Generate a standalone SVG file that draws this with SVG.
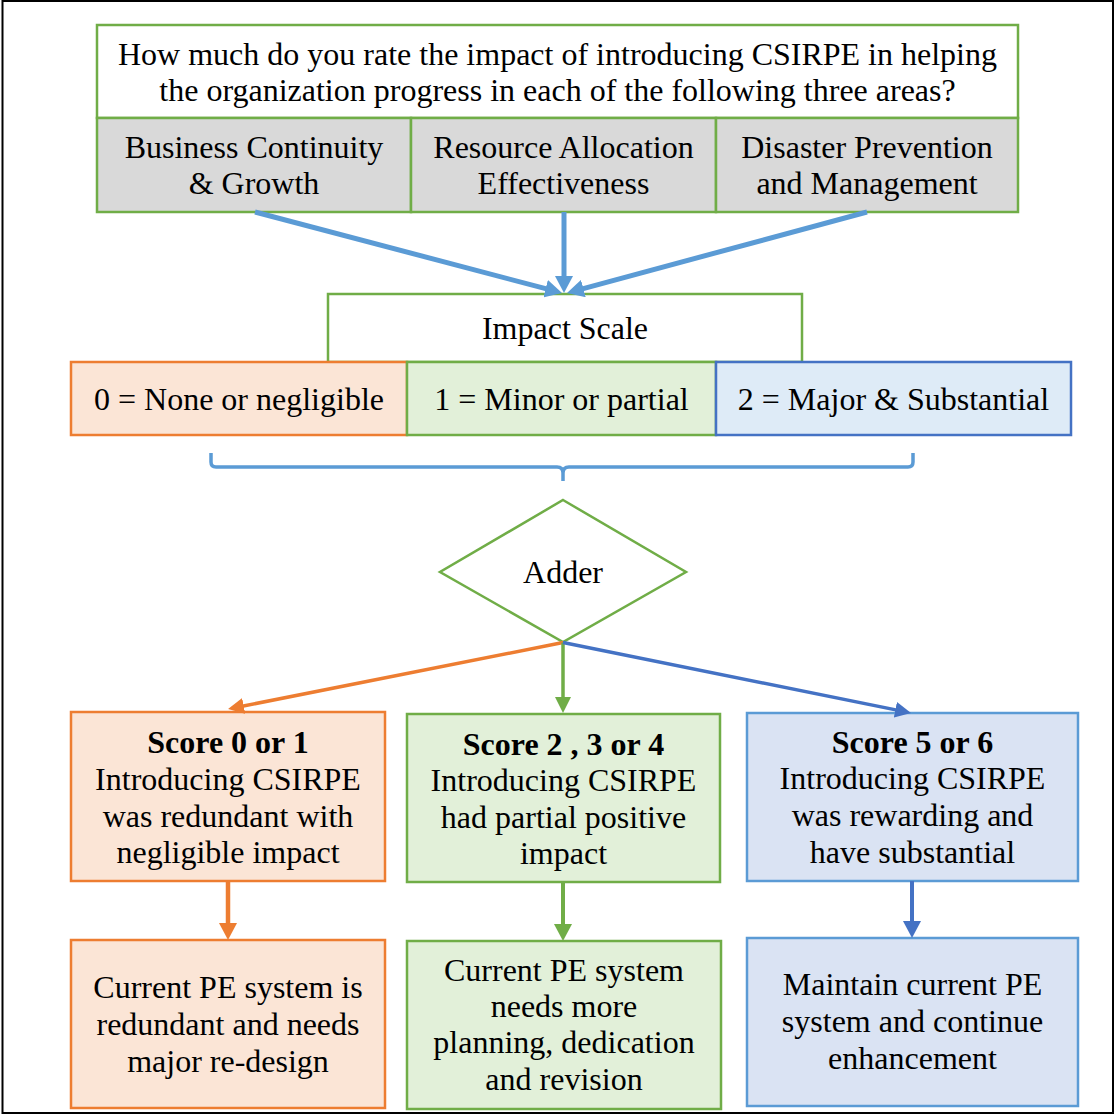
<svg xmlns="http://www.w3.org/2000/svg" width="1116" height="1116" viewBox="0 0 1116 1116">
  <defs>
    <style>
      text { font-family: "Liberation Serif", "Times New Roman", serif; font-size: 32px; fill: #000; text-anchor: middle; }
      .b { font-weight: bold; }
      .gbox { fill: #ffffff; stroke: #70AD47; stroke-width: 2.5; }
      .grey { fill: #D9D9D9; stroke: #70AD47; stroke-width: 2.5; }
      .obox { fill: #FBE5D6; stroke: #ED7D31; stroke-width: 2.5; }
      .lgbox { fill: #E2F0D9; stroke: #70AD47; stroke-width: 2.5; }
      .lbbox { fill: #DAE3F3; stroke: #5B9BD5; stroke-width: 2.5; }
      .sbbox { fill: #DEEBF7; stroke: #4472C4; stroke-width: 2.5; }
      .c-top { stroke: #5B9BD5; stroke-width: 5; fill: none; }
      .c-o { stroke: #ED7D31; fill: none; }
      .c-g { stroke: #70AD47; fill: none; }
      .c-b { stroke: #4472C4; fill: none; }
    </style>
    <marker id="ah-top" markerUnits="userSpaceOnUse" markerWidth="18" markerHeight="18" refX="3" refY="9" orient="auto">
      <path d="M0,0 L17,9 L0,18 z" fill="#5B9BD5"/>
    </marker>
    <marker id="ah-o" markerUnits="userSpaceOnUse" markerWidth="16" markerHeight="16" refX="3" refY="8" orient="auto">
      <path d="M0,0 L16,8 L0,16 z" fill="#ED7D31"/>
    </marker>
    <marker id="ah-g" markerUnits="userSpaceOnUse" markerWidth="16" markerHeight="16" refX="3" refY="8" orient="auto">
      <path d="M0,0 L16,8 L0,16 z" fill="#70AD47"/>
    </marker>
    <marker id="ah-b" markerUnits="userSpaceOnUse" markerWidth="16" markerHeight="16" refX="3" refY="8" orient="auto">
      <path d="M0,0 L16,8 L0,16 z" fill="#4472C4"/>
    </marker>
    <marker id="ah-o2" markerUnits="userSpaceOnUse" markerWidth="18" markerHeight="18" refX="3" refY="9" orient="auto">
      <path d="M0,0 L17,9 L0,18 z" fill="#ED7D31"/>
    </marker>
    <marker id="ah-g2" markerUnits="userSpaceOnUse" markerWidth="18" markerHeight="18" refX="3" refY="9" orient="auto">
      <path d="M0,0 L17,9 L0,18 z" fill="#70AD47"/>
    </marker>
    <marker id="ah-b2" markerUnits="userSpaceOnUse" markerWidth="18" markerHeight="18" refX="3" refY="9" orient="auto">
      <path d="M0,0 L17,9 L0,18 z" fill="#4472C4"/>
    </marker>
  </defs>

  <!-- page frame -->
  <rect x="0" y="0" width="1116" height="1116" fill="#ffffff"/>
  <rect x="2.5" y="1" width="1110.5" height="1112" fill="none" stroke="#000" stroke-width="2"/>

  <!-- question header -->
  <g id="question">
    <rect class="gbox" x="97" y="25" width="921" height="93"/>
    <text x="557.5" y="65">How much do you rate the impact of introducing CSIRPE in helping</text>
    <text x="557.5" y="101">the organization progress in each of the following three areas?</text>
  </g>

  <!-- three areas -->
  <g id="area-business">
    <rect class="grey" x="97" y="118" width="314" height="94"/>
    <text x="254" y="158">Business Continuity</text>
    <text x="254" y="194">&amp; Growth</text>
  </g>
  <g id="area-resource">
    <rect class="grey" x="411" y="118" width="305" height="94"/>
    <text x="563.5" y="158">Resource Allocation</text>
    <text x="563.5" y="194">Effectiveness</text>
  </g>
  <g id="area-disaster">
    <rect class="grey" x="716" y="118" width="302" height="94"/>
    <text x="867" y="158">Disaster Prevention</text>
    <text x="867" y="194">and Management</text>
  </g>

  <!-- impact scale -->
  <g id="impact-scale">
    <rect class="gbox" x="328" y="294" width="474" height="68"/>
    <text x="565" y="339">Impact Scale</text>
  </g>
  <g id="scale-0">
    <rect class="obox" x="71" y="362" width="336" height="73"/>
    <text x="239" y="410">0 = None or negligible</text>
  </g>
  <g id="scale-1">
    <rect class="lgbox" x="407" y="362" width="309" height="73"/>
    <text x="561.5" y="410">1 = Minor or partial</text>
  </g>
  <g id="scale-2">
    <rect class="sbbox" x="716" y="362" width="355" height="73"/>
    <text x="893.5" y="410">2 = Major &amp; Substantial</text>
  </g>

  <!-- adder -->
  <g id="adder">
    <polygon points="563,500 686,572 563,642 440,572" fill="#ffffff" stroke="#70AD47" stroke-width="2.5"/>
    <text x="563" y="583">Adder</text>
  </g>

  <!-- score outcomes -->
  <g id="score-low">
    <rect class="obox" x="71" y="712" width="314" height="169"/>
    <text class="b" x="228" y="753">Score 0 or 1</text>
    <text x="228" y="790">Introducing CSIRPE</text>
    <text x="228" y="827">was redundant with</text>
    <text x="228" y="863">negligible impact</text>
  </g>
  <g id="score-mid">
    <rect class="lgbox" x="407" y="714" width="313" height="168"/>
    <text class="b" x="563.5" y="755">Score 2 , 3 or 4</text>
    <text x="563.5" y="791">Introducing CSIRPE</text>
    <text x="563.5" y="828">had partial positive</text>
    <text x="563.5" y="864">impact</text>
  </g>
  <g id="score-high">
    <rect class="lbbox" x="747" y="713" width="331" height="168"/>
    <text class="b" x="912.5" y="753">Score 5 or 6</text>
    <text x="912.5" y="789">Introducing CSIRPE</text>
    <text x="912.5" y="826">was rewarding and</text>
    <text x="912.5" y="863">have substantial</text>
  </g>

  <!-- recommendations -->
  <g id="action-low">
    <rect class="obox" x="71" y="940" width="314" height="168"/>
    <text x="228" y="998">Current PE system is</text>
    <text x="228" y="1035">redundant and needs</text>
    <text x="228" y="1072">major re-design</text>
  </g>
  <g id="action-mid">
    <rect class="lgbox" x="407" y="941" width="314" height="168"/>
    <text x="564" y="981">Current PE system</text>
    <text x="564" y="1017">needs more</text>
    <text x="564" y="1053">planning, dedication</text>
    <text x="564" y="1090">and revision</text>
  </g>
  <g id="action-high">
    <rect class="lbbox" x="747" y="938" width="331" height="168"/>
    <text x="912.5" y="995">Maintain current PE</text>
    <text x="912.5" y="1032">system and continue</text>
    <text x="912.5" y="1069">enhancement</text>
  </g>

  <!-- connectors -->
  <g id="connectors">
    <line class="c-top" x1="255" y1="212" x2="548.5" y2="289.4" marker-end="url(#ah-top)"/>
    <line class="c-top" x1="564" y1="212" x2="564" y2="279" marker-end="url(#ah-top)"/>
    <line class="c-top" x1="867" y1="212" x2="580.5" y2="289.3" marker-end="url(#ah-top)"/>

    <path d="M211,453 L211,462 Q211,467 216,467 L557,467 Q563,467 563,473 L563,481 M563,473 Q563,467 569,467 L908,467 Q913,467 913,462 L913,453" fill="none" stroke="#5B9BD5" stroke-width="3.5"/>

    <line class="c-o" stroke-width="3.5" x1="563" y1="642.5" x2="240.8" y2="706.5" marker-end="url(#ah-o)"/>
    <line class="c-g" stroke-width="3.5" x1="563" y1="642.5" x2="563" y2="700" marker-end="url(#ah-g)"/>
    <line class="c-b" stroke-width="3.5" x1="563" y1="642.5" x2="898.3" y2="710.4" marker-end="url(#ah-b)"/>

    <line class="c-o" stroke-width="4.5" x1="228" y1="881" x2="228" y2="926" marker-end="url(#ah-o2)"/>
    <line class="c-g" stroke-width="4" x1="563" y1="882" x2="563" y2="927" marker-end="url(#ah-g2)"/>
    <line class="c-b" stroke-width="4" x1="912" y1="881" x2="912" y2="924" marker-end="url(#ah-b2)"/>
  </g>
</svg>
